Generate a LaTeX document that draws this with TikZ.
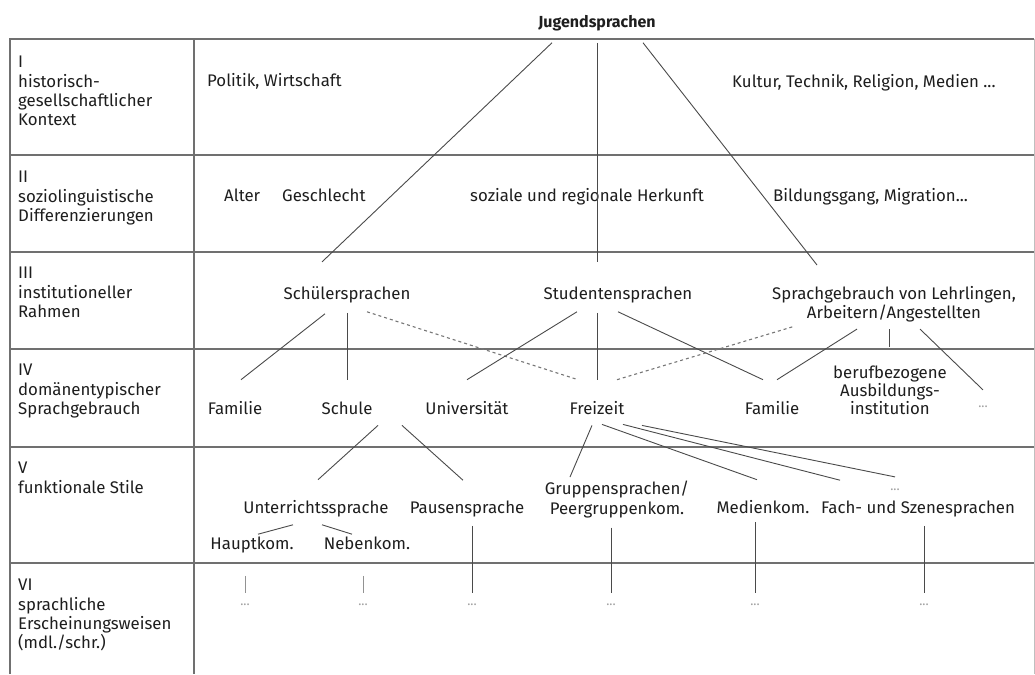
\documentclass[tikz,border=0pt]{standalone}
\usepackage{fontspec}
\setmainfont{Fira Sans}
\usetikzlibrary{calc}
\definecolor{gridc}{HTML}{707070}
\definecolor{linec}{HTML}{4A4A4A}
\definecolor{txt}{HTML}{1E1E1E}
\definecolor{dotc}{HTML}{A0A0A0}
\tikzset{
  every node/.style={inner sep=0pt, text=txt, font=\fontsize{16.8}{19.3}\selectfont},
  lbl/.style={anchor=base},
  side/.style={anchor=north west, align=left},
  multi/.style={anchor=north, align=center},
  dotsl/.style={text=dotc, font=\fontsize{13}{14}\selectfont},
  grid/.style={draw=gridc, line width=1.2pt},
  conn/.style={draw=linec, line width=0.9pt},
  dconn/.style={draw=linec!75, line width=1.1pt, dash pattern=on 3pt off 3pt},
}
\begin{document}
\begin{tikzpicture}[x=1pt,y=-1pt]
\useasboundingbox (0,0) rectangle (1035,674);
\fill[white] (0,0) rectangle (1035,674);
% table grid
\draw[grid] (10,674) -- (10,39) -- (1034,39);
\draw[grid] (194,39) -- (194,674);
\draw[draw=gridc!45, line width=0.8pt] (1034,39) -- (1034,674);
\foreach \y in {155,252,349,447,563} \draw[grid] (10,\y) -- (1034,\y);
% side labels
\node[side] (r1) at (18,56) {I\\historisch-\\gesellschaftlicher\\Kontext};
\node[side] (r2) at (18,171) {II\\soziolinguistische\\Differenzierungen};
\node[side] (r3) at (18,267) {III\\institutioneller\\Rahmen};
\node[side] (r4) at (18,364) {IV\\domänentypischer\\Sprachgebrauch};
\node[side] (r5) at (18,462) {V\\funktionale Stile};
\node[side] (r6) at (18,579) {VI\\sprachliche\\Erscheinungsweisen\\(mdl./schr.)};
% top
\node[lbl, font=\fontsize{16}{19}\selectfont\bfseries] (jug) at (597,28) {Jugendsprachen};
% row I
\node[anchor=base west] (politik) at (207,87) {Politik, Wirtschaft};
\node[anchor=base west] (kultur) at (732,88) {Kultur, Technik, Religion, Medien ...};
% row II
\node[anchor=base west] (alter) at (224,201) {Alter};
\node[anchor=base west] (geschlecht) at (282,201) {Geschlecht};
\node[anchor=base west] (soziale) at (470,201) {soziale und regionale Herkunft};
\node[anchor=base west] (bildung) at (773,201) {Bildungsgang, Migration...};
% row III
\node[lbl] (schueler) at (347,299) {Schülersprachen};
\node[lbl] (studenten) at (618,299) {Studentensprachen};
\node[multi, font=\fontsize{16.8}{19}\selectfont] (lehr) at (894,286) {Sprachgebrauch von Lehrlingen,\\Arbeitern/Angestellten};
% row IV
\node[lbl] (familie) at (235,414) {Familie};
\node[lbl] (schule) at (347,414) {Schule};
\node[lbl] (uni) at (467,414) {Universität};
\node[lbl] (freizeit) at (597,414) {Freizeit};
\node[lbl] (familieb) at (772,414) {Familie};
\node[multi, font=\fontsize{16.8}{18}\selectfont] (beruf) at (890,366) {berufbezogene\\Ausbildungs-\\institution};
\node[dotsl] (dotsiv) at (983,407) {...};
% row V
\node[lbl] (unterricht) at (316,513) {Unterrichtssprache};
\node[lbl] (pausen) at (467,513) {Pausensprache};
\node[multi, font=\fontsize{16.8}{20}\selectfont] (gruppen) at (617,481) {Gruppensprachen/\\Peergruppenkom.};
\node[lbl] (medien) at (763,513) {Medienkom.};
\node[lbl] (fach) at (918,513) {Fach- und Szenesprachen};
\node[dotsl] (dotsv) at (895,490) {...};
\node[lbl] (haupt) at (252,549) {Hauptkom.};
\node[lbl] (neben) at (367,549) {Nebenkom.};
% row VI dots
\node[dotsl] (d1) at (245,605) {...};
\node[dotsl] (d2) at (363,605) {...};
\node[dotsl] (d3) at (472,605) {...};
\node[dotsl] (d4) at (611,605) {...};
\node[dotsl] (d5) at (755,605) {...};
\node[dotsl] (d6) at (924,605) {...};
% connectors from Jugendsprachen
\draw[conn] ($(jug.south)+(-45,11)$) -- ($(schueler.north)+(-25,-24)$);
\draw[conn] ($(jug.south)+(0,11)$) -- ($(studenten.north)+(-21,-24)$);
\draw[conn] ($(jug.south)+(46,11)$) -- ($(lehr.north)+(-77,-21)$);
% III -> IV
\draw[conn] ($(schueler.south)+(-22,11)$) -- ($(familie.north)+(6,-21)$);
\draw[conn] ($(schueler.south)+(0,10)$) -- ($(schule.north)+(0,-21)$);
\draw[dconn] ($(schueler.south)+(20,9)$) -- ($(freizeit.north)+(-19,-21)$);
\draw[conn] ($(studenten.south)+(-41,9)$) -- ($(uni.north)+(0,-21)$);
\draw[conn] ($(studenten.south)+(-21,10)$) -- ($(freizeit.north)+(0,-21)$);
\draw[conn] ($(studenten.south)+(0,9)$) -- ($(familieb.north)+(-9,-21)$);
\draw[dconn] ($(freizeit.north)+(20,-21)$) -- ($(lehr.south)+(-99,4)$);
\draw[conn] ($(lehr.south)+(-37,7)$) -- ($(familieb.north)+(5,-21)$);
\draw[conn] ($(lehr.south)+(-5,7)$) -- ($(beruf.north)+(-1,-19)$);
\draw[conn] ($(lehr.south)+(26,7)$) -- ($(dotsiv.north)+(0,-16)$);
% IV -> V
\draw[conn] ($(schule.south)+(31,11)$) -- ($(unterricht.north)+(2,-20)$);
\draw[conn] ($(schule.south)+(55,11)$) -- ($(pausen.north)+(-4,-20)$);
\draw[conn] ($(freizeit.south)+(-5,11)$) -- ($(gruppen.north)+(-47,-4)$);
\draw[conn] ($(freizeit.south)+(5,10)$) -- ($(medien.north)+(-6,-20)$);
\draw[conn] ($(freizeit.south)+(26,10)$) -- ($(fach.north)+(-78,-20)$);
\draw[conn] ($(freizeit.south)+(45,11)$) -- ($(dotsv.north)+(0,-12)$);
% V -> sub
\draw[conn] ($(unterricht.south)+(-23,8)$) -- ($(haupt.north)+(6,-2)$);
\draw[conn] ($(unterricht.south)+(6,8)$) -- ($(neben.north)+(-15,-2)$);
% V -> VI
\draw[conn] ($(pausen.south)+(5,9)$) -- ($(d3.north)+(0,-11)$);
\draw[conn] ($(gruppen.south)+(-6,9)$) -- ($(d4.north)+(0,-11)$);
\draw[conn] ($(medien.south)+(-8,9)$) -- ($(d5.north)+(0,-11)$);
\draw[conn] ($(fach.south)+(6,9)$) -- ($(d6.north)+(0,-11)$);
\draw[draw=linec!60, line width=0.9pt] ($(d1.north)+(0,-28)$) -- ($(d1.north)+(0,-11)$);
\draw[draw=linec!60, line width=0.9pt] ($(d2.north)+(0,-28)$) -- ($(d2.north)+(0,-11)$);
\end{tikzpicture}
\end{document}
